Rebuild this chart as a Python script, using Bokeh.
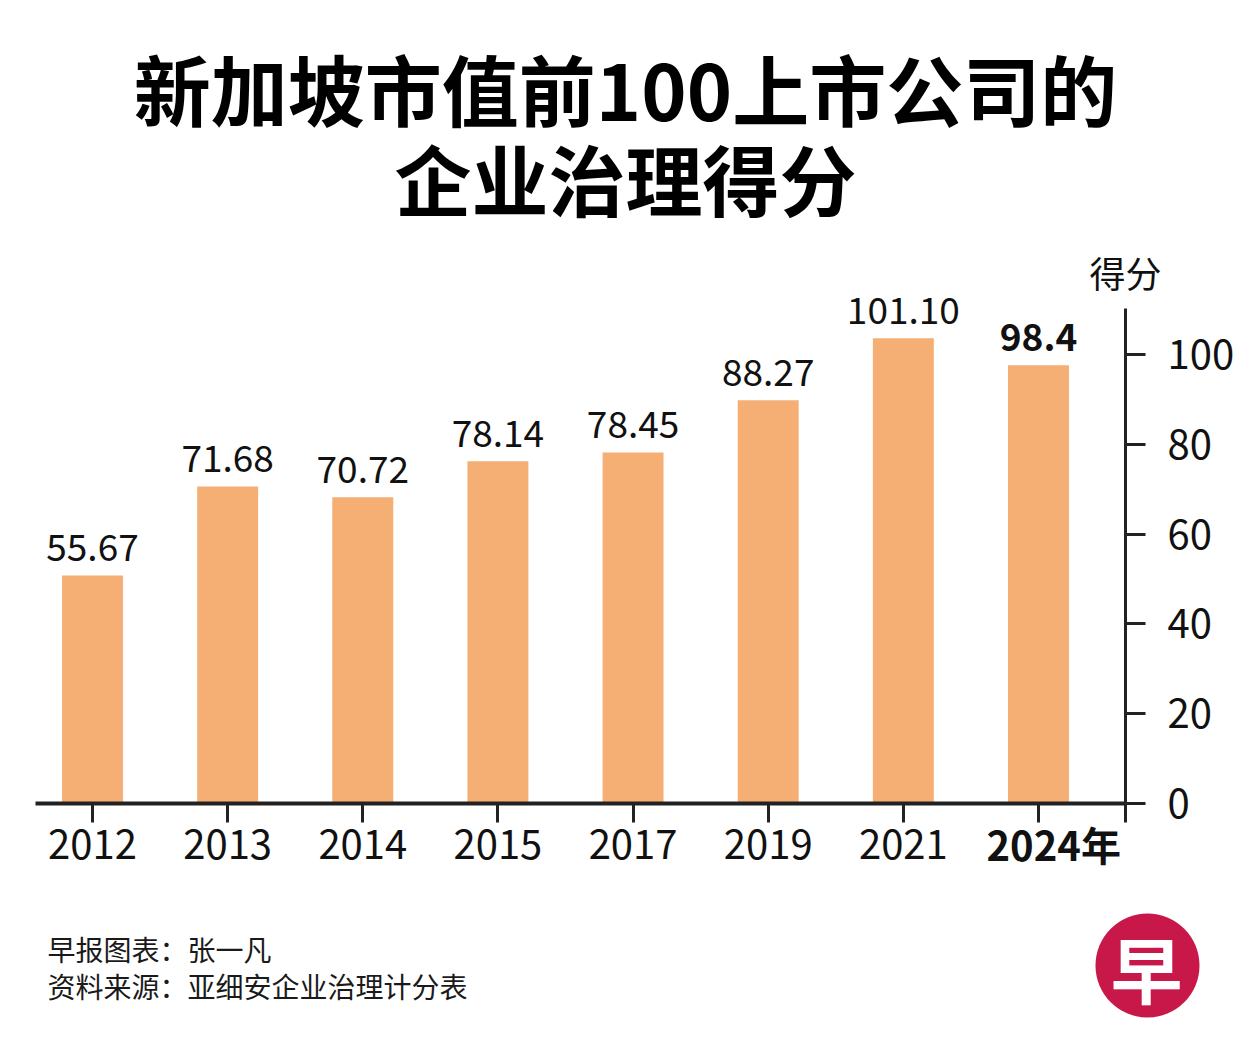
from bokeh.plotting import figure
from bokeh.models import Range1d, FixedTicker, ColumnDataSource, LinearAxis
from bokeh.embed import file_html
from bokeh.resources import INLINE
from bokeh.core.properties import value, field

# ---------------- data ----------------
years = ["2012", "2013", "2014", "2015", "2017", "2019", "2021", "2024"]
score_labels = ["55.67", "71.68", "70.72", "78.14", "78.45", "88.27", "101.10", "98.4"]
bar_heights = [50.8, 70.6, 68.2, 76.2, 78.2, 89.8, 103.6, 97.6]   # as drawn in the picture
y_ticks = [0, 20, 40, 60, 80, 100]
title_lines = ["新加坡市值前100上市公司的", "企业治理得分"]
y_title = "得分"
last_year_label = "2024年"
credits = ["早报图表：张一凡", "资料来源：亚细安企业治理计分表"]
logo_char = "早"

# ---------------- layout ----------------
FONT = "Noto Sans CJK SC"
TXT = "#111111"
BAR = "#F5AE73"
AX = "#222222"
W, H = 1235, 1022
FL, FR, FT, FB = 35, 1125, 308, 803     # axis extents on the page
X0_PAGE, X_STEP = 92, 135.14
PX_UNIT = 4.49
LABEL_GAP = 28                           # px from bar top to label centre


def dx(px):
    return (px - X0_PAGE) / X_STEP


def dy(py):
    return (FB - py) / PX_UNIT


x_left = round(dx(FL), 3)
x_end = round(dx(FR), 3)
y_top = round(dy(FT), 3)

p = figure(width=W, height=H,
           x_range=Range1d(dx(0), dx(W)), y_range=Range1d(dy(H), dy(0)),
           output_backend="svg", toolbar_location=None,
           x_axis_location=None, y_axis_location=None,
           min_border=0, min_border_left=0, min_border_right=0,
           min_border_top=0, min_border_bottom=0)
p.background_fill_color = "white"
p.border_fill_color = "white"
p.outline_line_color = None
p.xgrid.visible = False
p.ygrid.visible = False

xs = list(range(len(years)))
src = ColumnDataSource(dict(
    x=xs,
    top=bar_heights,
    label_y=[h + LABEL_GAP / PX_UNIT for h in bar_heights],
    text=score_labels,
    style=["normal"] * (len(years) - 1) + ["bold"],
))
p.vbar(x="x", top="top", bottom=0, width=0.451, source=src,
       fill_color=BAR, line_color=None)

p.text(x="x", y="label_y", text="text", source=src,
       text_align="center", text_baseline="middle",
       text_font=value(FONT), text_font_size="37px",
       text_font_style=field("style"), text_color=TXT)

# x axis, pinned at y = 0
xa = LinearAxis(fixed_location=0, bounds=(x_left, x_end))
xa.ticker = FixedTicker(ticks=xs, minor_ticks=[x_end])
overrides = {i: y for i, y in enumerate(years)}
overrides[len(years) - 1] = ""
xa.major_label_overrides = overrides
xa.axis_line_width = 4
xa.axis_line_color = AX
xa.major_tick_out = 19
xa.major_tick_in = 0
xa.major_tick_line_width = 3
xa.major_tick_line_color = AX
xa.minor_tick_out = 19
xa.minor_tick_in = 0
xa.minor_tick_line_width = 3
xa.minor_tick_line_color = AX
xa.major_label_standoff = 7
xa.major_label_text_font = FONT
xa.major_label_text_font_size = "40px"
xa.major_label_text_color = TXT
p.add_layout(xa, "below")

# y axis on the right, pinned at the right end of the x axis
ya = LinearAxis(fixed_location=x_end, bounds=(0, y_top))
ya.ticker = FixedTicker(ticks=y_ticks, minor_ticks=[])
ya.axis_line_width = 3
ya.axis_line_color = AX
ya.major_tick_out = 20
ya.major_tick_in = 0
ya.major_tick_line_width = 3
ya.major_tick_line_color = AX
ya.minor_tick_out = 0
ya.minor_tick_in = 0
ya.major_label_standoff = 22
ya.major_label_text_font = FONT
ya.major_label_text_font_size = "40px"
ya.major_label_text_color = TXT
p.add_layout(ya, "right")

# bold last category label
p.text(x=[xs[-1]], y=[dy(843)], text=[last_year_label], x_offset=-52,
       text_align="left", text_baseline="middle",
       text_font=value(FONT), text_font_size="40px",
       text_font_style="bold", text_color=TXT)

# axis title
p.text(x=[x_end], y=[dy(271)], text=[y_title], text_align="center",
       text_baseline="middle", text_font=value(FONT),
       text_font_size="36px", text_color=TXT)

# title
p.text(x=[dx(625)] * 2, y=[dy(87), dy(177)], text=title_lines, text_align="center",
       text_baseline="middle", text_font=value(FONT),
       text_font_size="77px", text_font_style="bold", text_color="#000000")

# footer
p.text(x=[dx(47)] * 2, y=[dy(948), dy(985)], text=credits, text_align="left",
       text_baseline="middle", text_font=value(FONT), text_font_size="28px",
       text_color="#1a1a1a")
p.scatter(x=[dx(1147)], y=[dy(965)], size=104, marker="circle",
          fill_color="#C8184A", line_color=None)
p.text(x=[dx(1146)], y=[dy(966)], text=[logo_char], text_align="center",
       text_baseline="middle", text_font=value(FONT), text_font_size="72px",
       text_font_style="bold", text_color="white")

open("out.html", "w").write(file_html(p, INLINE))
